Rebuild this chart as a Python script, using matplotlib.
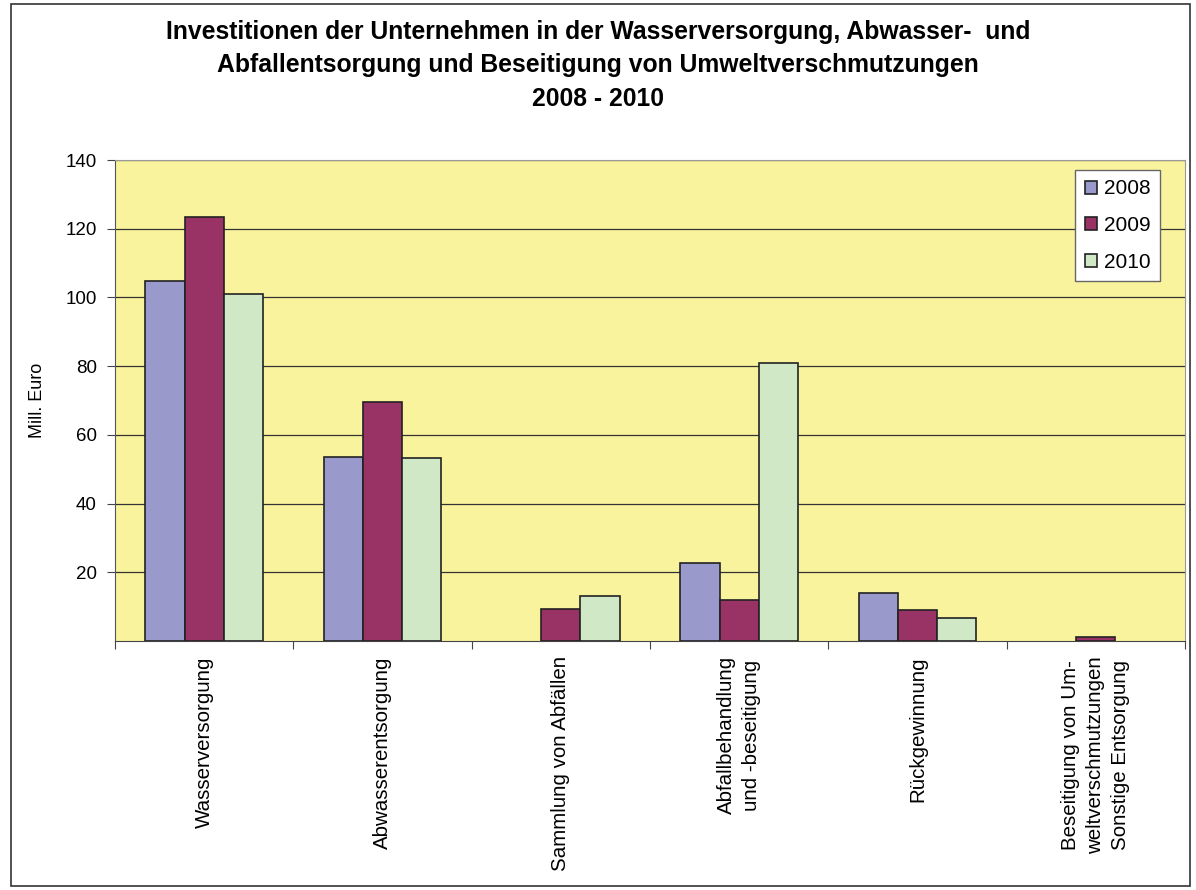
import matplotlib.pyplot as plt
import numpy as np
from matplotlib.patches import Rectangle

plt.rcParams['font.family'] = ['Liberation Sans', 'DejaVu Sans']

categories = ["Wasserversorgung", "Abwasserentsorgung", "Sammlung von Abfällen",
              "Abfallbehandlung\nund -beseitigung", "Rückgewinnung",
              "Beseitigung von Um-\nweltverschmutzungen\nSonstige Entsorgung"]
years = ["2008", "2009", "2010"]
v2008 = [104.8, 53.6, 0, 22.7, 14.0, 0]
v2009 = [123.4, 69.6, 9.3, 12.0, 9.0, 1.2]
v2010 = [101.0, 53.3, 13.1, 80.9, 6.7, 0]
colors = ["#9999CC", "#993366", "#D0E8C6"]

fig = plt.figure(figsize=(11.96, 8.9), dpi=100)
ax = fig.add_axes([0.0962, 0.2798, 0.8946, 0.5404])
ax.set_facecolor("#FAF39D")

x = np.arange(len(categories))
w = 0.22
for i, (vals, col, yr) in enumerate(zip([v2008, v2009, v2010], colors, years)):
    vals = np.array(vals, dtype=float)
    keep = vals > 0
    ax.bar((x + (i - 1) * w)[keep], vals[keep], w, color=col, edgecolor="#222222",
           linewidth=1.2, label=yr, zorder=3)

ax.set_xlim(-0.5, len(categories) - 0.5)
ax.set_ylim(0, 140)
ax.set_yticks(range(20, 141, 20))
ax.tick_params(axis='y', labelsize=13.5, length=6, direction='out', color="#444444", pad=7)
ax.yaxis.grid(True, color="#333333", linewidth=0.9, zorder=0)
ax.set_axisbelow(True)

ax.set_xticks(np.arange(len(categories) + 1) - 0.5, minor=False)
ax.set_xticklabels([])
ax.tick_params(axis='x', length=6, direction='out', color="#444444")
ax.set_xticks(x, minor=True)
ax.set_xticklabels(categories, minor=True, rotation=90, fontsize=14.8, ha='center', va='top',
                   multialignment='center', linespacing=1.4)
ax.tick_params(axis='x', which='minor', length=0, pad=11)

ax.set_ylabel("Mill. Euro", fontsize=13, labelpad=14)

for s in ["top", "right"]:
    ax.spines[s].set_color("#999999")
ax.spines["left"].set_color("#555555")
ax.spines["bottom"].set_color("#444444")

leg = ax.legend(loc='upper right', bbox_to_anchor=(0.977, 0.979), borderaxespad=0,
                fontsize=15, handlelength=0.6, handleheight=0.6, handletextpad=0.35,
                labelspacing=0.85, fancybox=False, framealpha=1, edgecolor="#666666",
                borderpad=0.45)
leg.get_frame().set_linewidth(1.0)

fig.text(0.5, 0.978, "Investitionen der Unternehmen in der Wasserversorgung, Abwasser-  und\n"
         "Abfallentsorgung und Beseitigung von Umweltverschmutzungen\n2008 - 2010",
         ha='center', va='top', fontsize=17.8, fontweight='bold', linespacing=1.51)

fig.patches.append(Rectangle((0.009, 0.004), 0.986, 0.992, transform=fig.transFigure,
                             fill=False, edgecolor="#333333", linewidth=1.2))

fig.savefig("out.png", dpi=100)
